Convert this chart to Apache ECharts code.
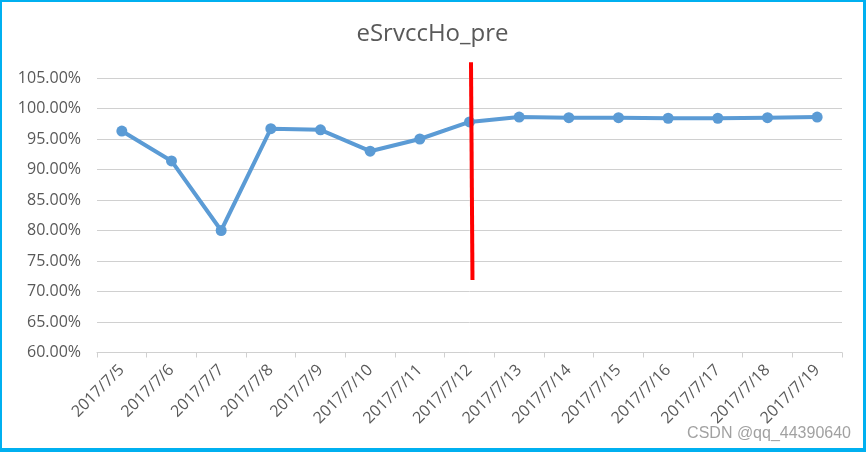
<!DOCTYPE html>
<html>
<head>
<meta charset="utf-8">
<script src="https://cdn.jsdelivr.net/npm/echarts@6/dist/echarts.min.js"></script>
<style>
html,body{margin:0;padding:0;background:#fff;}
#wrap{width:866px;height:452px;box-sizing:border-box;border-style:solid;border-color:#00b0f0;border-width:2px 3px 4px 2px;background:#fff;}
#chart{width:861px;height:446px;}
</style>
</head>
<body>
<div id="wrap"><div id="chart"></div></div>
<script>
var categories = ['2017/7/5','2017/7/6','2017/7/7','2017/7/8','2017/7/9','2017/7/10','2017/7/11','2017/7/12','2017/7/13','2017/7/14','2017/7/15','2017/7/16','2017/7/17','2017/7/18','2017/7/19'];
var values = [96.3, 91.4, 80.0, 96.7, 96.5, 93.0, 95.0, 97.8, 98.6, 98.5, 98.5, 98.4, 98.4, 98.5, 98.6];
var yMin = 60, yMax = 105, yStep = 5;
// hand-drawn red annotation line: [category index, percent]
var redLine = [[7.03, 107.6], [7.06, 71.9]];
var titleText = 'eSrvccHo_pre';
var watermark = 'CSDN @qq_44390640';

var chart = echarts.init(document.getElementById('chart'));
var fontFam = '"Open Sans", "Noto Sans", sans-serif';
chart.setOption({
  animation: false,
  backgroundColor: '#fff',
  title: {
    text: titleText, left: 'center', top: 15,
    textStyle: { fontFamily: fontFam, fontSize: 24, fontWeight: 'normal', color: '#595959' }
  },
  grid: { left: 95, right: 21, top: 76, bottom: 95.5, containLabel: false },
  xAxis: [{
    type: 'category', data: categories, boundaryGap: true,
    axisLine: { lineStyle: { color: '#d0d0d0', width: 1 } },
    axisTick: { show: true, length: 5, lineStyle: { color: '#d0d0d0' } },
    axisLabel: { interval: 0, rotate: 45, margin: 15, color: '#595959', fontFamily: fontFam, fontSize: 16 }
  }, {
    type: 'value', min: -0.5, max: categories.length - 0.5, show: false
  }],
  yAxis: {
    type: 'value', min: yMin, max: yMax, interval: yStep,
    axisLine: { show: false }, axisTick: { show: false },
    splitLine: { lineStyle: { color: '#d0d0d0', width: 1 } },
    axisLabel: { margin: 16, color: '#595959', fontFamily: fontFam, fontSize: 16,
      formatter: function (v) { return v.toFixed(2) + '%'; } }
  },
  series: [{
    type: 'line', data: values, xAxisIndex: 0,
    symbol: 'circle', symbolSize: 11, showSymbol: true,
    lineStyle: { color: '#5b9bd5', width: 4 },
    itemStyle: { color: '#5b9bd5' }
  }, {
    type: 'line', data: redLine, xAxisIndex: 1, clip: false, silent: true,
    symbol: 'none', lineStyle: { color: '#ff0000', width: 4 }, z: 5
  }],
  graphic: [{
    type: 'text', right: 12, bottom: 6, silent: true,
    style: { text: watermark, fill: 'rgba(130,130,130,0.75)', fontFamily: '"Liberation Sans", Arial, sans-serif', fontSize: 16 }
  }]
});
</script>
</body>
</html>
